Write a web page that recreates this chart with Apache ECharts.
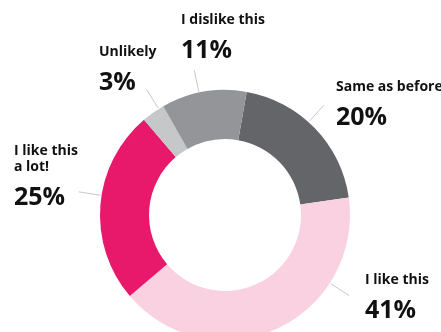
<!DOCTYPE html>
<html>
<head>
<meta charset="utf-8">
<script src="https://cdn.jsdelivr.net/npm/echarts@6/dist/echarts.min.js"></script>
<style>
  html, body { margin: 0; padding: 0; background: #ffffff; }
  #chart { width: 441px; height: 332px; }
</style>
</head>
<body>
<div id="chart"></div>
<script>
// Survey answers, clockwise from the top of the ring
const categories = ['Same as before', 'I like this', 'I like this\na lot!', 'Unlikely', 'I dislike this'];
const shares = [20, 41, 25, 3, 11];
const sliceColors = ['#646569', '#f9d1e1', '#e8186a', '#c6c7c9', '#939598'];

// Ring geometry (pixels)
const ringCenter = [225, 215];
const innerRadius = 76;
const outerRadius = 125;
const leaderLength = 22;

// Label placement: leader angle (degrees clockwise from 12 o'clock)
// and the top-left corner of each text block
const labelPlacement = [
  { angle: 42,  x: 336, y: 79 },
  { angle: 123, x: 365, y: 272 },
  { angle: 279, x: 14,  y: 143 },
  { angle: 328, x: 99,  y: 44 },
  { angle: 348, x: 181, y: 12 }
];

function ringPoint(angleDeg, r) {
  const a = angleDeg * Math.PI / 180;
  return [ringCenter[0] + r * Math.sin(a), ringCenter[1] - r * Math.cos(a)];
}

const chart = echarts.init(document.getElementById('chart'), null, { renderer: 'canvas' });

const data = categories.map((name, i) => ({
  name: name,
  value: shares[i],
  itemStyle: { color: sliceColors[i] }
}));

chart.setOption({
  animation: false,
  backgroundColor: '#ffffff',
  series: [{
    type: 'pie',
    center: ringCenter,
    radius: [innerRadius, outerRadius],
    startAngle: 80,
    clockwise: true,
    avoidLabelOverlap: false,
    silent: true,
    data: data,
    itemStyle: { borderWidth: 0 },
    label: {
      show: true,
      position: 'outside',
      color: '#111111',
      fontFamily: 'Open Sans',
      formatter: function (p) {
        const lines = p.name.split('\n').map(t => '{n|' + t + '}');
        return lines.join('\n') + '\n{v|' + p.value + '%}';
      },
      rich: {
        n: { fontFamily: 'Open Sans', fontWeight: 700, fontSize: 14, lineHeight: 16, color: '#111111', align: 'left' },
        v: { fontFamily: 'Open Sans', fontWeight: 700, fontSize: 25, lineHeight: 46, color: '#111111', align: 'left' }
      }
    },
    labelLine: {
      show: true,
      length: leaderLength,
      length2: 0,
      smooth: false,
      lineStyle: { color: '#c8c8c8', width: 1 }
    },
    labelLayout: function (params) {
      const place = labelPlacement[params.dataIndex];
      return {
        x: place.x,
        y: place.y,
        align: 'left',
        verticalAlign: 'top',
        labelLinePoints: [
          ringPoint(place.angle, outerRadius + 1),
          ringPoint(place.angle, outerRadius + 1 + leaderLength)
        ]
      };
    }
  }]
});
</script>
</body>
</html>
